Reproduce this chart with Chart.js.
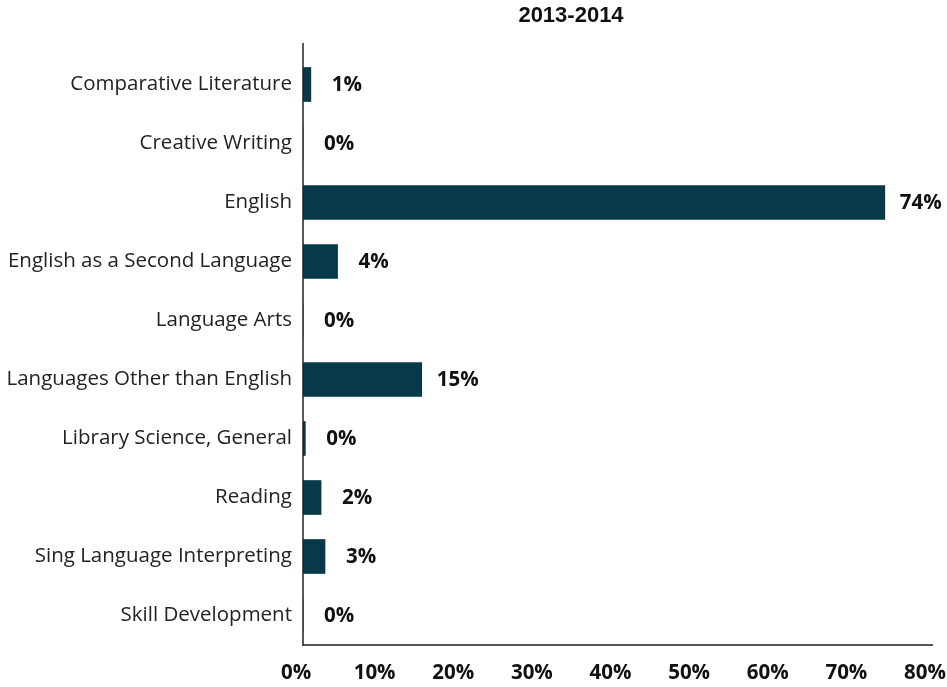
<!DOCTYPE html>
<html>
<head>
<meta charset="utf-8">
<script src="https://cdn.jsdelivr.net/npm/chart.js@4.4.1/dist/chart.umd.min.js"></script>
<style>
  html, body { margin: 0; padding: 0; background: #fff; }
  #wrap { width: 947px; height: 687px; }
</style>
</head>
<body>
<div id="wrap"><canvas id="chart" width="947" height="687"></canvas></div>
<script>
const title = "2013-2014";
const categories = [
    "Comparative Literature",
    "Creative Writing",
    "English",
    "English as a Second Language",
    "Language Arts",
    "Languages Other than English",
    "Library Science, General",
    "Reading",
    "Sing Language Interpreting",
    "Skill Development"
];
const shares = [1.0, 0.0, 74.0, 4.4, 0.0, 15.1, 0.3, 2.3, 2.8, 0.0];
const axisMax = 80;
const axisStep = 10;

const barColor = "#063a4a";
const labelFont = "'Open Sans', Lato, sans-serif";

// title, value labels and the tall y axis line
const extras = {
    id: "extras",
    afterDraw(chart) {
        const ctx = chart.ctx;
        const area = chart.chartArea;
        ctx.save();

        ctx.strokeStyle = "#222";
        ctx.lineWidth = 1.5;
        ctx.beginPath();
        ctx.moveTo(area.left, area.top - 12);
        ctx.lineTo(area.left, area.bottom);
        ctx.stroke();

        ctx.fillStyle = "#111";
        ctx.font = "bold 22px 'Liberation Sans', Arial, sans-serif";
        ctx.textAlign = "center";
        ctx.textBaseline = "middle";
        ctx.fillText(title, 571, 16);

        ctx.font = "bold 20.5px " + labelFont;
        const meta = chart.getDatasetMeta(0);
        meta.data.forEach((bar, i) => {
            ctx.fillText(shares[i].toFixed(0) + "%", bar.x + 36, bar.y + 1);
        });
        ctx.restore();
    }
};

new Chart(document.getElementById("chart"), {
    type: "bar",
    data: {
        labels: categories,
        datasets: [{
            data: shares,
            backgroundColor: barColor,
            barThickness: 34
        }]
    },
    options: {
        indexAxis: "y",
        responsive: false,
        animation: false,
        layout: { padding: { top: 55, right: 0, bottom: 4, left: 0 } },
        plugins: {
            legend: { display: false },
            tooltip: { enabled: false }
        },
        scales: {
            x: {
                min: 0,
                max: axisMax,
                grid: { display: false, drawTicks: false },
                border: { display: true, color: "#555", width: 2 },
                afterFit: s => { s.paddingLeft = 0; s.paddingRight = 15; s.height = 38; },
                ticks: {
                    stepSize: axisStep,
                    padding: 16,
                    labelOffset: -7,
                    color: "#111",
                    font: { family: labelFont, size: 20.5, weight: "bold" },
                    callback: v => v + "%"
                }
            },
            y: {
                grid: { display: false, drawTicks: false },
                border: { display: false },
                afterFit: s => { s.width = 303; },
                ticks: {
                    padding: 11,
                    color: "#222",
                    font: { family: labelFont, size: 20.5 }
                }
            }
        }
    },
    plugins: [extras]
});
</script>
</body>
</html>
